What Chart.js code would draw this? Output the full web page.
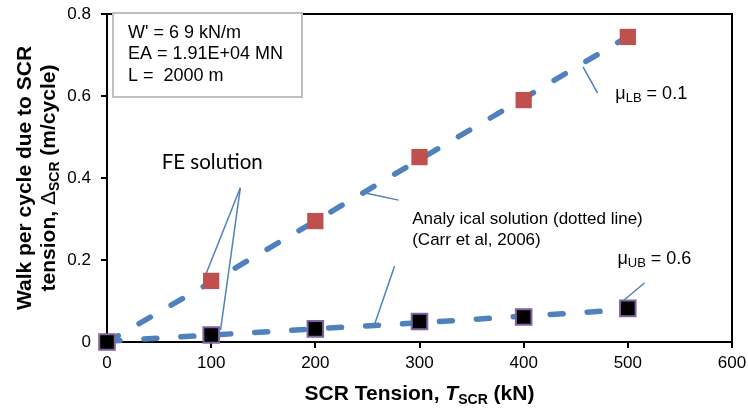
<!DOCTYPE html>
<html>
<head>
<meta charset="utf-8">
<script src="https://cdn.jsdelivr.net/npm/chart.js@4.4.1/dist/chart.umd.min.js"></script>
<style>
  body { margin: 0; background: #fff; }
  canvas { display: block; }
</style>
</head>
<body>
<canvas id="walkChart" width="748" height="412"></canvas>
<script>
// --- DATA ---
const tensions = [0, 100, 200, 300, 400, 500];          // SCR tension (kN)
const feLB = [0, 0.149, 0.295, 0.451, 0.590, 0.744];     // FE solution, mu = 0.1
const feUB = [0, 0.017, 0.032, 0.050, 0.061, 0.082];     // FE solution, mu = 0.6
const anaLB = [0, 0.146, 0.295, 0.445, 0.594, 0.745];    // analytical, mu = 0.1
const anaUB = [0.002, 0.017, 0.032, 0.047, 0.063, 0.079]; // analytical, mu = 0.6
const xTicks = [0, 100, 200, 300, 400, 500, 600];
const yTicks = [0, 0.2, 0.4, 0.6, 0.8];

// leader lines, in data units [x, y]
const leaders = [
    [[128, 0.376], [94, 0.159]],
    [[128, 0.376], [109, 0.029]],
    [[280, 0.346], [249, 0.363]],
    [[276, 0.185], [257, 0.044]],
    [[471, 0.607], [457, 0.671]],
    [[516, 0.144], [493, 0.095]]
];

const boxLines = ["W' = 6 9 kN/m", 'EA = 1.91E+04 MN', 'L =  2000 m'];

const BLUE = '#4f81bd';
const SANS = '"Liberation Sans", Arial, sans-serif';

// --- HELPERS ---
function pts(xs, ys) {
    return xs.map((x, i) => ({ x: x, y: ys[i] }));
}

// draws text made of runs {t, font, sub}, centred on (cx, baseline y)
function drawRuns(ctx, runs, cx, y) {
    let total = 0;
    runs.forEach(r => { ctx.font = r.font; r.w = ctx.measureText(r.t).width; total += r.w; });
    let x = cx - total / 2;
    ctx.textAlign = 'left';
    ctx.textBaseline = 'alphabetic';
    runs.forEach(r => {
        ctx.font = r.font;
        ctx.fillText(r.t, x, y + (r.sub ? 4 : 0));
        x += r.w;
    });
}

// label with subscript, left aligned at (x, middle y)
function drawSubLabel(ctx, main, sub, rest, x, y) {
    ctx.textBaseline = 'alphabetic';
    ctx.textAlign = 'left';
    ctx.font = '18px ' + SANS;
    ctx.fillText(main, x, y + 6);
    x += ctx.measureText(main).width;
    ctx.font = '13px ' + SANS;
    ctx.fillText(sub, x, y + 9);
    x += ctx.measureText(sub).width;
    ctx.font = '18px ' + SANS;
    ctx.fillText(rest, x, y + 6);
}

const decorPlugin = {
    id: 'decor',
    beforeDatasetsDraw(chart) {
        const { ctx, chartArea: a } = chart;
        ctx.save();
        ctx.strokeStyle = '#000';
        ctx.lineWidth = 2;
        ctx.beginPath();
        ctx.moveTo(a.left, a.top);
        ctx.lineTo(a.right, a.top);
        ctx.lineTo(a.right, a.bottom);
        ctx.stroke();
        ctx.restore();
    },
    afterDatasetsDraw(chart) {
        const { ctx, chartArea: a, scales } = chart;
        const sx = scales.x, sy = scales.y;
        ctx.save();

        // parameter box
        ctx.fillStyle = '#fff';
        ctx.fillRect(a.left + 6, a.top - 1, 189, 84);
        ctx.strokeStyle = '#bfbfbf';
        ctx.lineWidth = 2;
        ctx.strokeRect(a.left + 6, a.top - 1, 189, 84);
        ctx.fillStyle = '#000';
        ctx.font = '18px ' + SANS;
        ctx.textAlign = 'left';
        ctx.textBaseline = 'middle';
        boxLines.forEach((t, i) => ctx.fillText(t, a.left + 21, a.top + 19 + i * 21.5));

        // annotations
        ctx.font = '20.5px Lato, "Open Sans", sans-serif';
        ctx.textAlign = 'center';
        ctx.fillText('FE solution', sx.getPixelForValue(101), sy.getPixelForValue(0.437));

        ctx.font = '17px ' + SANS;
        ctx.textAlign = 'left';
        ctx.fillText('Analy ical solution (dotted line)', sx.getPixelForValue(293), sy.getPixelForValue(0.300));
        ctx.fillText('(Carr et al, 2006)', sx.getPixelForValue(293), sy.getPixelForValue(0.249));

        drawSubLabel(ctx, '\u03bc', 'LB', ' = 0.1', sx.getPixelForValue(488), sy.getPixelForValue(0.607));
        drawSubLabel(ctx, '\u03bc', 'UB', ' = 0.6', sx.getPixelForValue(490), sy.getPixelForValue(0.205));

        // axis titles
        const big = 'bold 21px ' + SANS;
        const small = 'bold 14px ' + SANS;
        drawRuns(ctx, [
            { t: 'SCR Tension, ', font: big },
            { t: 'T', font: 'italic ' + big },
            { t: 'SCR', font: small, sub: true },
            { t: ' (kN)', font: big }
        ], (a.left + a.right) / 2, 400);

        const cy = (a.top + a.bottom) / 2;
        ctx.translate(0, cy);
        ctx.rotate(-Math.PI / 2);
        drawRuns(ctx, [{ t: 'Walk per cycle due to SCR', font: big }], 0, 31);
        drawRuns(ctx, [
            { t: 'tension, ', font: big },
            { t: '\u0394', font: '21px ' + SANS },
            { t: 'SCR', font: small, sub: true },
            { t: ' (m/cycle)', font: big }
        ], 0, 55);
        ctx.restore();
    }
};

const datasets = [
    {
        label: 'FE mu 0.6', data: pts(tensions, feUB), showLine: false,
        pointStyle: 'rect', pointRadius: 11, backgroundColor: '#000',
        borderColor: '#8064a2', pointBorderWidth: 2, order: 1, clip: false
    },
    {
        label: 'FE mu 0.1', data: pts(tensions, feLB), showLine: false,
        pointStyle: 'rect', pointRadius: 11.5, backgroundColor: '#c0504d',
        borderColor: '#c0504d', pointBorderWidth: 0, order: 2, clip: false
    },
    {
        label: 'Analytical mu 0.1', data: pts(tensions, anaLB), borderColor: BLUE,
        borderWidth: 5.5, borderDash: [13, 24], borderCapStyle: 'round',
        pointRadius: 0, order: 3, clip: false
    },
    {
        label: 'Analytical mu 0.6', data: pts(tensions, anaUB), borderColor: BLUE,
        borderWidth: 5.5, borderDash: [13, 24], borderCapStyle: 'round',
        pointRadius: 0, order: 3, clip: false
    }
];

leaders.forEach((seg, i) => {
    datasets.push({
        label: 'leader ' + i,
        data: seg.map(p => ({ x: p[0], y: p[1] })),
        borderColor: BLUE, borderWidth: 1.5, pointRadius: 0, order: 4, clip: false
    });
});

new Chart(document.getElementById('walkChart'), {
    type: 'line',
    data: { datasets: datasets },
    options: {
        responsive: false,
        animation: false,
        devicePixelRatio: 1,
        layout: { padding: { top: 14, right: 16, left: 0, bottom: 0 } },
        plugins: { legend: { display: false }, tooltip: { enabled: false } },
        scales: {
            x: {
                type: 'linear', min: 0, max: 600,
                afterFit: s => { s.height = 70; s.paddingLeft = 0; s.paddingRight = 0; },
                afterBuildTicks: s => { s.ticks = xTicks.map(v => ({ value: v })); },
                ticks: { color: '#000', font: { size: 17, family: SANS }, padding: 5 },
                grid: { drawOnChartArea: false, drawTicks: true, tickLength: 6, color: '#000', lineWidth: 2 },
                border: { color: '#000', width: 2 }
            },
            y: {
                type: 'linear', min: 0, max: 0.8,
                afterFit: s => { s.width = 107; s.paddingTop = 0; s.paddingBottom = 0; },
                afterBuildTicks: s => { s.ticks = yTicks.map(v => ({ value: v })); },
                ticks: {
                    color: '#000', font: { size: 17, family: SANS }, padding: 10,
                    callback: v => v === 0 ? '0' : v.toFixed(1)
                },
                grid: { drawOnChartArea: false, drawTicks: true, tickLength: 6, color: '#000', lineWidth: 2 },
                border: { color: '#000', width: 2 }
            }
        }
    },
    plugins: [decorPlugin]
});
</script>
</body>
</html>
